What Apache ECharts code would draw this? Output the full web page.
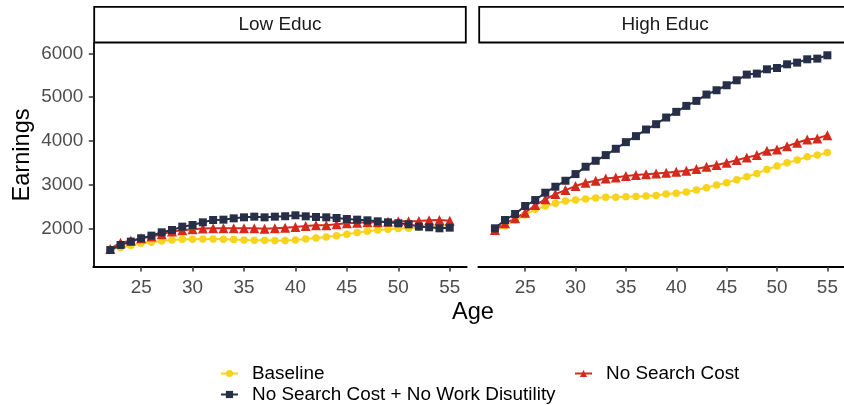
<!DOCTYPE html>
<html>
<head>
<meta charset="utf-8">
<script src="https://cdn.jsdelivr.net/npm/echarts@6/dist/echarts.min.js"></script>
<style>
  html, body { margin: 0; padding: 0; background: #ffffff; }
  #chart { width: 844px; height: 405px; }
</style>
</head>
<body>
<div id="chart"></div>
<script>
// Life-cycle earnings by age, two education groups, three model scenarios.
const ages = [22, 23, 24, 25, 26, 27, 28, 29, 30, 31, 32, 33, 34, 35, 36, 37, 38,
              39, 40, 41, 42, 43, 44, 45, 46, 47, 48, 49, 50, 51, 52, 53, 54, 55];

const panels = ['Low Educ', 'High Educ'];
const seriesNames = ['Baseline', 'No Search Cost + No Work Disutility', 'No Search Cost'];

const lowBaseline = [1540, 1576, 1621, 1674, 1697, 1727, 1750, 1765, 1768, 1773, 1770, 1765,
                     1760, 1750, 1745, 1742, 1738, 1735, 1750, 1773, 1795, 1818, 1848, 1879,
                     1917, 1947, 1977, 1992, 2008, 2015, 2038, 2060, 2075, 2091];
const lowNoSearch = [1545, 1689, 1735, 1788, 1826, 1879, 1940, 1970, 1995, 2010, 2015, 2015,
                     2015, 2015, 2015, 2005, 2015, 2030, 2045, 2068, 2083, 2085, 2106, 2129,
                     2144, 2151, 2155, 2167, 2174, 2178, 2182, 2197, 2204, 2190];
const lowNoSearchNoDis = [1520, 1636, 1712, 1788, 1848, 1924, 1977, 2053, 2091, 2151, 2204, 2212,
                          2242, 2265, 2280, 2265, 2280, 2290, 2311, 2288, 2273, 2265, 2250, 2227,
                          2212, 2197, 2174, 2151, 2129, 2106, 2053, 2038, 2015, 2030];

const highBaseline = [1962, 2068, 2204, 2318, 2447, 2523, 2583, 2636, 2659, 2682, 2705, 2720,
                      2720, 2735, 2738, 2750, 2765, 2795, 2811, 2841, 2886, 2939, 3000, 3053,
                      3120, 3190, 3265, 3356, 3432, 3508, 3568, 3644, 3682, 3742];
const highNoSearch = [1977, 2129, 2242, 2371, 2545, 2674, 2795, 2886, 2977, 3053, 3098, 3152,
                      3174, 3205, 3227, 3245, 3265, 3280, 3303, 3326, 3364, 3417, 3455, 3508,
                      3568, 3629, 3682, 3780, 3811, 3886, 3962, 4038, 4061, 4136];
const highNoSearchNoDis = [2015, 2204, 2341, 2523, 2659, 2826, 2962, 3098, 3250, 3417, 3553, 3682,
                           3826, 3977, 4114, 4265, 4386, 4538, 4667, 4803, 4917, 5061, 5159, 5273,
                           5386, 5515, 5538, 5636, 5666, 5750, 5788, 5864, 5879, 5955];

const xTicks = [25, 30, 35, 40, 45, 50, 55];
const yTicks = [2000, 3000, 4000, 5000, 6000];

const FONT = '"Liberation Sans", Arial, Helvetica, sans-serif';
const colors = { base: '#F8D31C', nsc: '#D42A1D', nscnwd: '#272E47' };

// panel geometry (pixels)
const panelTop = 43, panelHeight = 224, panelWidth = 373.4;
const panelLefts = [93.3, 478.3];
const xRange = [20.35, 56.65];
const yRange = [1134, 6235];

function pairs(ys) { return ages.map((a, i) => [a, ys[i]]); }

function makeSeries(name, data, idx, color, symbol, size) {
  return {
    name: name,
    type: 'line',
    xAxisIndex: idx,
    yAxisIndex: idx,
    data: pairs(data),
    symbol: symbol,
    symbolSize: size,
    showSymbol: true,
    lineStyle: { color: color, width: 2 },
    itemStyle: { color: color },
    emphasis: { disabled: true },
    animation: false
  };
}

const grids = panelLefts.map(l => ({ left: l, top: panelTop, width: panelWidth, height: panelHeight }));

const xAxes = panelLefts.map((l, i) => ({
  type: 'value', gridIndex: i, min: xRange[0], max: xRange[1],
  splitLine: { show: false },
  axisLine: { show: true, onZero: false, lineStyle: { color: '#000', width: 1.8 } },
  axisTick: { show: true, length: 4.5, lineStyle: { color: '#333', width: 1.5 }, customValues: xTicks },
  axisLabel: { show: true, customValues: xTicks, formatter: v => String(v),
               color: '#4d4d4d', fontSize: 18.9, fontFamily: FONT, margin: 11 }
}));

const yAxes = panelLefts.map((l, i) => ({
  type: 'value', gridIndex: i, min: yRange[0], max: yRange[1],
  splitLine: { show: false },
  axisLine: { show: i === 0, onZero: false, lineStyle: { color: '#000', width: 1.8 } },
  axisTick: { show: i === 0, length: 4.5, lineStyle: { color: '#333', width: 1.5 }, customValues: yTicks },
  axisLabel: { show: i === 0, customValues: yTicks, formatter: v => String(v),
               color: '#4d4d4d', fontSize: 18.9, fontFamily: FONT, margin: 10 },
  name: i === 0 ? 'Earnings' : '',
  nameLocation: 'middle',
  nameGap: 59,
  nameTextStyle: { color: '#000', fontSize: 23.6, fontFamily: FONT }
}));

const series = [];
[[lowBaseline, lowNoSearchNoDis, lowNoSearch], [highBaseline, highNoSearchNoDis, highNoSearch]].forEach((set, i) => {
  series.push(makeSeries(seriesNames[0], set[0], i, colors.base, 'circle', 7.5));
  series.push(makeSeries(seriesNames[2], set[2], i, colors.nsc, 'triangle', 10));
  series.push(makeSeries(seriesNames[1], set[1], i, colors.nscnwd, 'rect', 8));
});

// facet strips with titles, plus the shared x-axis title
const graphics = [];
panelLefts.forEach((l, i) => {
  graphics.push({
    type: 'rect',
    shape: { x: l + 0.9, y: 6.9, width: panelWidth - 1.8, height: 35.6 },
    style: { fill: '#ffffff', stroke: '#000', lineWidth: 1.8 },
    silent: true
  });
  graphics.push({
    type: 'text',
    x: l + panelWidth / 2, y: 25,
    style: { text: panels[i], fill: '#1a1a1a', font: '18.9px ' + FONT, textAlign: 'center', textVerticalAlign: 'middle' },
    silent: true
  });
});
graphics.push({
  type: 'text',
  x: 473, y: 312,
  style: { text: 'Age', fill: '#000', font: '23.6px ' + FONT, textAlign: 'center', textVerticalAlign: 'middle' },
  silent: true
});

function legendAt(left, top, name) {
  return {
    left: left,
    top: top,
    padding: 0,
    orient: 'horizontal',
    data: [name],
    itemWidth: 17,
    itemHeight: 9,
    selectedMode: false,
    textStyle: { color: '#000', fontSize: 18.9, fontFamily: FONT, padding: [0, 0, 0, 9] }
  };
}

const option = {
  backgroundColor: '#ffffff',
  animation: false,
  grid: grids,
  xAxis: xAxes,
  yAxis: yAxes,
  legend: [
    legendAt(220, 364, seriesNames[0]),
    legendAt(220, 385, seriesNames[1]),
    legendAt(574, 364, seriesNames[2])
  ],
  graphic: graphics,
  series: series
};

const chart = echarts.init(document.getElementById('chart'), null, { renderer: 'canvas' });
chart.setOption(option);
</script>
</body>
</html>
